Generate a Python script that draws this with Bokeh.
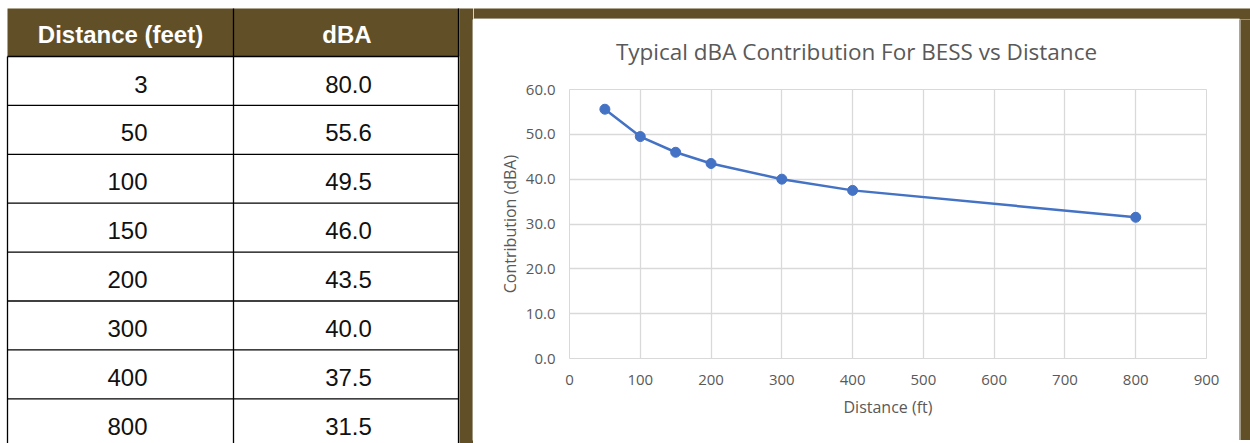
from bokeh.plotting import figure
from bokeh.layouts import row, column
from bokeh.models import Range1d, FixedTicker, NumeralTickFormatter
from bokeh.core.properties import value
from bokeh.embed import file_html
from bokeh.resources import INLINE

# Table values
table_headers = ["Distance (feet)", "dBA"]
distance_ft = [3, 50, 100, 150, 200, 300, 400, 800]
dba = [80.0, 55.6, 49.5, 46.0, 43.5, 40.0, 37.5, 31.5]

# The chart plots the series from 50 ft outwards
chart_distance = distance_ft[1:]
chart_dba = dba[1:]
chart_title = "Typical dBA Contribution For BESS vs Distance"

x_ticks = [0, 100, 200, 300, 400, 500, 600, 700, 800, 900]
y_ticks = [0, 10, 20, 30, 40, 50, 60]

BROWN = "#614F27"
BLUE = "#4472C4"
GRID = "#D9D9D9"
EDGE = "#E2E2E2"
GREY_TEXT = "#595959"
CHART_FONT = "Open Sans"
TABLE_FONT = "Liberation Sans"


def bare(fig, bg="white"):
    fig.axis.visible = False
    fig.grid.visible = False
    fig.outline_line_color = None
    fig.background_fill_color = bg
    fig.border_fill_color = bg
    fig.min_border = 0
    return fig


# ---------------- table (pixel coordinates, y grows downwards) ----------------
TW, TH = 473, 443
tbl = bare(figure(width=TW, height=TH, x_range=Range1d(0, TW), y_range=Range1d(TH, 0),
                  output_backend="svg", toolbar_location=None))

left, mid, right = 7, 233, 458
head_top, head_bot = 8, 56
row_h = 48.9
n = len(distance_ft)
row_tops = [head_bot + i * row_h for i in range(n)]

# header band and left edge of the brown frame
tbl.quad(left=[left], right=[right + 1], top=[head_top], bottom=[head_bot],
         fill_color=BROWN, line_color=None)
tbl.quad(left=[right + 1], right=[TW], top=[head_top], bottom=[TH],
         fill_color=BROWN, line_color=None)
# thin light edge where the chart panel begins
tbl.segment(x0=[TW - 0.5], y0=[19], x1=[TW - 0.5], y1=[440], line_color=EDGE, line_width=1)

# cell borders
tbl.segment(x0=[left] * n, y0=row_tops, x1=[right] * n, y1=row_tops,
            line_color="black", line_width=1.3)
tbl.segment(x0=[left, mid, right], y0=[head_bot, head_top, head_top],
            x1=[left, mid, right], y1=[TH, TH, TH], line_color="black", line_width=1.3)

# header text
tbl.text(x=[(left + mid) / 2, (mid + right) / 2 + 1], y=[head_top + 26] * 2, text=table_headers,
         text_color="white", text_font=value(TABLE_FONT), text_font_style="bold",
         text_font_size="24px", text_align="center", text_baseline="alphabetic")

# body text
base = [t + 27.5 for t in row_tops]
tbl.text(x=[147] * n, y=base, text=[str(d) for d in distance_ft],
         text_color="#111111", text_font=value(TABLE_FONT), text_font_size="24px",
         text_align="right", text_baseline="alphabetic")
tbl.text(x=[348] * n, y=base, text=[f"{v:.1f}" for v in dba],
         text_color="#111111", text_font=value(TABLE_FONT), text_font_size="24px",
         text_align="center", text_baseline="alphabetic")

# ---------------- brown frame strips around the chart ----------------
CW = 766
B_LEFT, B_RIGHT = 96, 33
top_strip = bare(figure(width=777, height=19, x_range=Range1d(0, 777), y_range=Range1d(19, 0),
                        output_backend="svg", toolbar_location=None))
top_strip.quad(left=[0], right=[777], top=[8], bottom=[19], fill_color=BROWN, line_color=None)
top_strip.segment(x0=[0], y0=[18.5], x1=[CW], y1=[18.5], line_color=EDGE, line_width=1)

right_strip = bare(figure(width=11, height=421, x_range=Range1d(0, 11), y_range=Range1d(0, 421),
                          output_backend="svg", toolbar_location=None), bg=BROWN)
right_strip.quad(left=[0], right=[11], top=[421], bottom=[0], fill_color=BROWN, line_color=None)
right_strip.segment(x0=[0.5], y0=[0], x1=[0.5], y1=[421], line_color=EDGE, line_width=1)

bottom_strip = bare(figure(width=777, height=3, x_range=Range1d(0, 777), y_range=Range1d(0, 3),
                           output_backend="svg", toolbar_location=None), bg=BROWN)
bottom_strip.quad(left=[0], right=[777], top=[3], bottom=[0], fill_color=BROWN, line_color=None)
bottom_strip.segment(x0=[0], y0=[2.5], x1=[CW], y1=[2.5], line_color=EDGE, line_width=1)

# ---------------- chart title band ----------------
# its borders match the chart below, so x is measured from the chart's plot area
TITLE_H = 50
frame_w = CW - B_LEFT - B_RIGHT
title_band = bare(figure(width=CW, height=TITLE_H, x_range=Range1d(0, frame_w),
                         y_range=Range1d(TITLE_H, 0), output_backend="svg",
                         toolbar_location=None))
title_band.min_border_left = B_LEFT
title_band.min_border_right = B_RIGHT
title_band.text(x=[CW / 2 - B_LEFT], y=[32], text=[chart_title], text_font=value(CHART_FONT),
                text_font_size="22.5px", text_color=GREY_TEXT,
                text_align="center", text_baseline="middle")

# ---------------- chart ----------------
p = figure(width=CW, height=421 - TITLE_H, x_range=Range1d(0, 900), y_range=Range1d(0, 60),
           output_backend="svg", toolbar_location=None,
           min_border_left=B_LEFT, min_border_right=B_RIGHT, min_border_top=70 - TITLE_H,
           min_border_bottom=82)
p.background_fill_color = "white"
p.border_fill_color = "white"
p.outline_line_color = GRID

p.xaxis.ticker = FixedTicker(ticks=x_ticks)
p.yaxis.ticker = FixedTicker(ticks=y_ticks)
p.yaxis.formatter = NumeralTickFormatter(format="0.0")
p.xgrid.ticker = FixedTicker(ticks=x_ticks)
p.ygrid.ticker = FixedTicker(ticks=y_ticks)
p.grid.grid_line_color = GRID
p.grid.grid_line_width = 1.3

for ax in (p.xaxis[0], p.yaxis[0]):
    ax.axis_line_color = None
    ax.major_tick_line_color = None
    ax.minor_tick_line_color = None
    ax.major_tick_in = 0
    ax.major_tick_out = 0
    ax.major_label_text_font = CHART_FONT
    ax.major_label_text_font_size = "15px"
    ax.major_label_text_color = GREY_TEXT
    ax.axis_label_text_font = CHART_FONT
    ax.axis_label_text_font_style = "normal"
    ax.axis_label_text_font_size = "16px"
    ax.axis_label_text_color = GREY_TEXT

p.xaxis.axis_label = "Distance (ft)"
p.yaxis.axis_label = "Contribution (dBA)"
p.xaxis.major_label_standoff = 16
p.xaxis.axis_label_standoff = 8
p.yaxis.major_label_standoff = 14
p.yaxis.axis_label_standoff = 2

p.line(chart_distance, chart_dba, line_color=BLUE, line_width=2.5)
p.scatter(chart_distance, chart_dba, size=10, fill_color=BLUE, line_color=BLUE)

layout = row(tbl, column(top_strip, row(column(title_band, p), right_strip), bottom_strip))

open("out.html", "w").write(file_html(layout, INLINE))
